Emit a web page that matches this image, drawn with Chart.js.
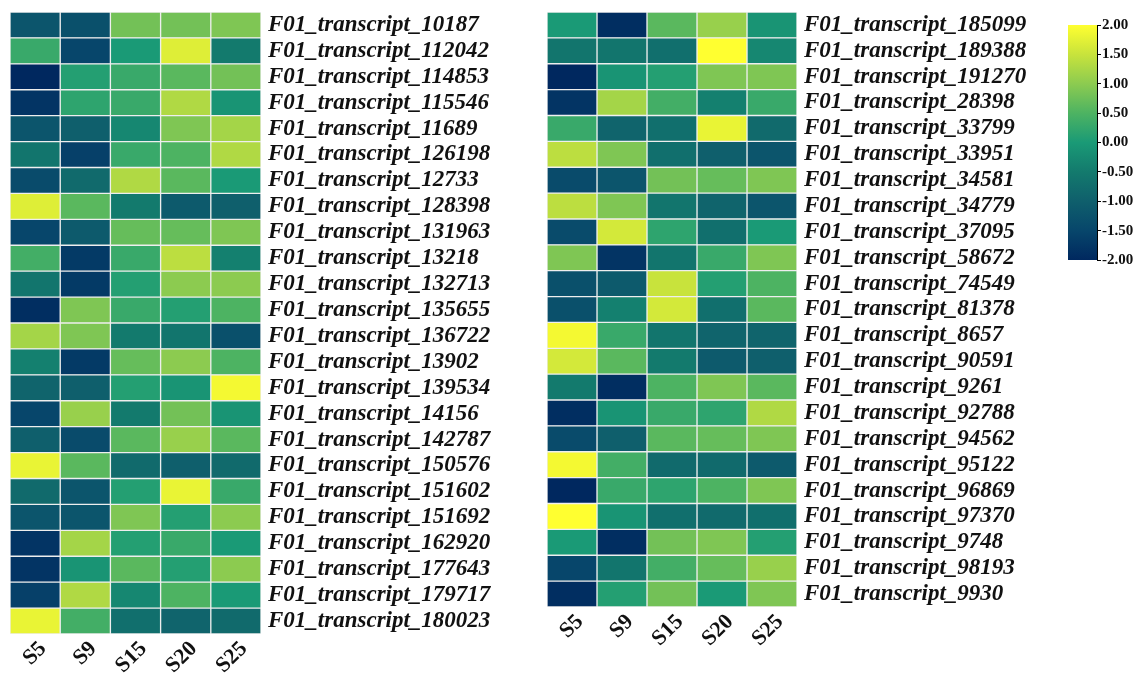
<!DOCTYPE html>
<html>
<head>
<meta charset="utf-8">
<title>Transcript expression heatmap</title>
<script src="https://cdn.jsdelivr.net/npm/chart.js@4.4.0/dist/chart.umd.min.js"></script>
<style>
    html, body { margin: 0; padding: 0; background: #fff; }
    body { width: 1141px; height: 676px; position: relative; overflow: hidden; }
    .panel { position: absolute; }
</style>
</head>
<body>
<div class="panel" style="left:0;top:0;width:530px;height:676px;"><canvas id="leftMap"></canvas></div>
<div class="panel" style="left:540px;top:0;width:520px;height:676px;"><canvas id="rightMap"></canvas></div>
<div class="panel" style="left:1040px;top:0;width:101px;height:300px;"><canvas id="scaleBar"></canvas></div>
<script>
// Sample stages (columns)
const samples = ['S5', 'S9', 'S15', 'S20', 'S25'];

// Left block
const leftGenes = [
    'F01_transcript_10187', 'F01_transcript_112042', 'F01_transcript_114853', 'F01_transcript_115546',
    'F01_transcript_11689', 'F01_transcript_126198', 'F01_transcript_12733', 'F01_transcript_128398',
    'F01_transcript_131963', 'F01_transcript_13218', 'F01_transcript_132713', 'F01_transcript_135655',
    'F01_transcript_136722', 'F01_transcript_13902', 'F01_transcript_139534', 'F01_transcript_14156',
    'F01_transcript_142787', 'F01_transcript_150576', 'F01_transcript_151602', 'F01_transcript_151692',
    'F01_transcript_162920', 'F01_transcript_177643', 'F01_transcript_179717', 'F01_transcript_180023'
];
const leftValues = [
    [-1.2, -1.3, 0.8, 0.8, 0.9],
    [0.3, -1.5, 0.0, 1.7, -0.5],
    [-2.0, 0.1, 0.3, 0.6, 0.8],
    [-1.8, 0.2, 0.3, 1.3, -0.1],
    [-1.2, -1.0, -0.3, 0.9, 1.2],
    [-0.6, -1.6, 0.3, 0.5, 1.3],
    [-1.4, -0.8, 1.3, 0.6, 0.0],
    [1.7, 0.6, -0.5, -1.1, -1.0],
    [-1.5, -1.1, 0.7, 0.7, 0.9],
    [0.4, -1.7, 0.3, 1.4, -0.4],
    [-0.6, -1.7, 0.1, 1.0, 1.0],
    [-1.9, 0.9, 0.3, 0.1, 0.5],
    [1.2, 0.9, -0.5, -0.6, -1.3],
    [-0.4, -1.7, 0.7, 1.0, 0.5],
    [-0.9, -1.0, 0.1, -0.1, 1.9],
    [-1.5, 1.1, -0.5, 0.8, -0.1],
    [-1.0, -1.4, 0.6, 1.1, 0.6],
    [1.8, 0.6, -0.8, -1.0, -0.8],
    [-0.8, -1.2, 0.1, 1.8, 0.3],
    [-1.2, -1.2, 0.9, 0.1, 1.0],
    [-1.8, 1.2, 0.1, 0.3, 0.0],
    [-1.8, -0.1, 0.6, 0.1, 1.0],
    [-1.6, 1.3, -0.3, 0.5, 0.0],
    [1.8, 0.4, -0.7, -0.9, -0.8]
];

// Right block
const rightGenes = [
    'F01_transcript_185099', 'F01_transcript_189388', 'F01_transcript_191270', 'F01_transcript_28398',
    'F01_transcript_33799', 'F01_transcript_33951', 'F01_transcript_34581', 'F01_transcript_34779',
    'F01_transcript_37095', 'F01_transcript_58672', 'F01_transcript_74549', 'F01_transcript_81378',
    'F01_transcript_8657', 'F01_transcript_90591', 'F01_transcript_9261', 'F01_transcript_92788',
    'F01_transcript_94562', 'F01_transcript_95122', 'F01_transcript_96869', 'F01_transcript_97370',
    'F01_transcript_9748', 'F01_transcript_98193', 'F01_transcript_9930'
];
const rightValues = [
    [0.0, -1.9, 0.6, 1.1, -0.1],
    [-0.6, -0.6, -0.7, 2.0, -0.3],
    [-2.0, -0.1, 0.1, 0.9, 0.9],
    [-1.8, 1.2, 0.4, -0.4, 0.3],
    [0.3, -0.9, -0.7, 1.8, -0.8],
    [1.4, 0.9, -0.7, -1.0, -1.2],
    [-1.4, -1.2, 0.8, 0.7, 0.9],
    [1.4, 0.9, -0.6, -0.9, -1.2],
    [-1.4, 1.6, 0.2, -0.7, 0.0],
    [0.9, -1.8, -0.6, 0.3, 0.9],
    [-1.3, -1.1, 1.5, 0.1, 0.5],
    [-1.3, -0.4, 1.6, -0.7, 0.6],
    [1.9, 0.3, -0.6, -0.9, -0.9],
    [1.6, 0.6, -0.5, -1.1, -1.0],
    [-0.5, -1.9, 0.5, 0.9, 0.6],
    [-1.9, -0.1, 0.3, 0.2, 1.3],
    [-1.4, -1.0, 0.6, 0.7, 0.9],
    [1.9, 0.4, -0.8, -0.8, -1.1],
    [-2.0, 0.3, 0.2, 0.5, 0.9],
    [2.0, -0.1, -0.7, -0.8, -0.7],
    [0.0, -1.9, 0.8, 0.9, 0.1],
    [-1.5, -0.6, 0.4, 0.7, 1.1],
    [-1.9, 0.1, 0.8, 0.0, 0.9]
];

// Colour scale limits and ticks
const scaleMin = -2;
const scaleMax = 2;
const scaleTicks = [-2, -1.5, -1, -0.5, 0, 0.5, 1, 1.5, 2];

// navy -> teal -> green -> yellow
const palette = [
    [-2.0, [0, 40, 95]],
    [-1.5, [7, 70, 107]],
    [-1.0, [15, 95, 108]],
    [-0.5, [19, 122, 109]],
    [0.0, [26, 154, 118]],
    [0.5, [77, 179, 98]],
    [1.0, [140, 203, 80]],
    [1.5, [200, 227, 60]],
    [2.0, [255, 255, 48]]
];

function colorFor(v) {
    const x = Math.max(scaleMin, Math.min(scaleMax, v));
    for (let i = 1; i < palette.length; i++) {
        const [v1, c1] = palette[i];
        const [v0, c0] = palette[i - 1];
        if (x <= v1) {
            const t = (x - v0) / (v1 - v0);
            const c = c0.map((a, k) => Math.round(a + (c1[k] - a) * t));
            return `rgb(${c[0]},${c[1]},${c[2]})`;
        }
    }
    const c = palette[palette.length - 1][1];
    return `rgb(${c[0]},${c[1]},${c[2]})`;
}

const serif = "'Liberation Serif', 'Times New Roman', serif";

// keep the label overhang from pushing the plot area around
function noEdgePadding(axis) {
    axis.paddingTop = 0;
    axis.paddingBottom = 0;
    axis.paddingLeft = 0;
    axis.paddingRight = 0;
}

function buildHeatmap(canvasId, genes, values, opts) {
    const datasets = samples.map((s, c) => ({
        label: s,
        data: genes.map(() => 1),
        backgroundColor: genes.map((g, r) => colorFor(values[r][c])),
        borderColor: '#eeeeee',
        borderWidth: 1,
        borderSkipped: false,
        barPercentage: 1,
        categoryPercentage: 1
    }));

    return new Chart(document.getElementById(canvasId), {
        type: 'bar',
        data: { labels: genes, datasets: datasets },
        options: {
            indexAxis: 'y',
            responsive: true,
            maintainAspectRatio: false,
            animation: false,
            layout: { padding: { left: opts.left, top: 12, right: 0, bottom: 0 } },
            plugins: { legend: { display: false }, tooltip: { enabled: false } },
            scales: {
                x: {
                    type: 'linear',
                    stacked: true,
                    min: 0,
                    max: samples.length,
                    grid: { display: false, drawTicks: false },
                    border: { display: false },
                    afterBuildTicks: axis => {
                        axis.ticks = samples.map((s, i) => ({ value: i + 0.5 }));
                    },
                    afterFit: axis => {
                        axis.height = opts.xHeight;
                        noEdgePadding(axis);
                    },
                    ticks: {
                        autoSkip: false,
                        minRotation: 45,
                        maxRotation: 45,
                        labelOffset: 8,
                        padding: 2,
                        color: '#111',
                        font: { family: serif, size: 22, weight: 'bold' },
                        callback: (v, i) => samples[i]
                    }
                },
                y: {
                    stacked: true,
                    position: 'right',
                    grid: { display: false, drawTicks: false },
                    border: { display: false },
                    afterFit: axis => {
                        axis.width = opts.yWidth;
                        noEdgePadding(axis);
                    },
                    ticks: {
                        autoSkip: false,
                        padding: 7,
                        color: '#111',
                        font: { family: serif, size: 23, weight: 'bold', style: 'italic' }
                    }
                }
            }
        }
    });
}

buildHeatmap('leftMap', leftGenes, leftValues, { left: 10, yWidth: 269, xHeight: 42 });
buildHeatmap('rightMap', rightGenes, rightValues, { left: 7, yWidth: 263, xHeight: 69 });

// Colour key
new Chart(document.getElementById('scaleBar'), {
    type: 'bar',
    data: {
        labels: [''],
        datasets: [{
            data: [[scaleMin, scaleMax]],
            barPercentage: 1,
            categoryPercentage: 1,
            borderWidth: 0,
            backgroundColor: ctx => {
                const area = ctx.chart.chartArea;
                if (!area) return '#1a9a76';
                const g = ctx.chart.ctx.createLinearGradient(0, area.bottom, 0, area.top);
                palette.forEach(([v, c]) => {
                    g.addColorStop((v - scaleMin) / (scaleMax - scaleMin), `rgb(${c[0]},${c[1]},${c[2]})`);
                });
                return g;
            }
        }]
    },
    options: {
        responsive: true,
        maintainAspectRatio: false,
        animation: false,
        layout: { padding: { left: 28, top: 25, right: 0, bottom: 40 } },
        plugins: { legend: { display: false }, tooltip: { enabled: false } },
        scales: {
            x: { display: false },
            y: {
                position: 'right',
                min: scaleMin,
                max: scaleMax,
                afterBuildTicks: axis => {
                    axis.ticks = scaleTicks.map(v => ({ value: v }));
                },
                afterFit: axis => { axis.width = 44; },
                grid: { drawOnChartArea: false, drawTicks: true, tickLength: 4, color: '#000' },
                border: { display: true, color: '#000', width: 1 },
                ticks: {
                    padding: 1,
                    color: '#111',
                    font: { family: serif, size: 15, weight: 'bold' },
                    callback: v => v.toFixed(2)
                }
            }
        }
    }
});
</script>
</body>
</html>
